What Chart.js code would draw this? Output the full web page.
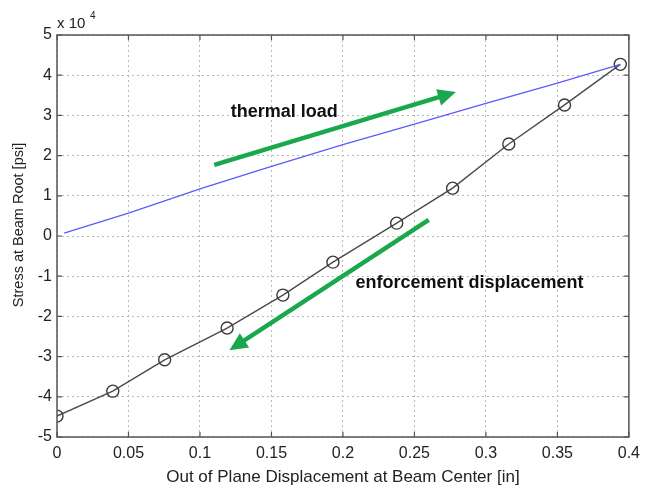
<!DOCTYPE html>
<html><head><meta charset="utf-8">
<script src="https://cdn.jsdelivr.net/npm/chart.js@4/dist/chart.umd.min.js"></script>
<style>html,body{margin:0;padding:0;background:#fff;}</style>
</head><body>
<canvas id="c" width="647" height="491" style="display:block;width:647px;height:491px"></canvas>
<script>
// Stress values are in units of 10^4 psi (axis multiplier "x 10^4")
const thermalX = [0.005, 0.05, 0.1, 0.15, 0.2, 0.25, 0.3, 0.35, 0.394];
const thermalY = [0.07, 0.57, 1.17, 1.73, 2.27, 2.78, 3.30, 3.80, 4.27];

const enforcedX = [0, 0.039, 0.0753, 0.119, 0.158, 0.193, 0.2376, 0.2767, 0.316, 0.355, 0.394];
const enforcedY = [-4.48, -3.86, -3.08, -2.29, -1.47, -0.65, 0.32, 1.19, 2.29, 3.26, 4.27];

const xTickValues = [0, 0.05, 0.1, 0.15, 0.2, 0.25, 0.3, 0.35, 0.4];
const xTickLabels = ["0", "0.05", "0.1", "0.15", "0.2", "0.25", "0.3", "0.35", "0.4"];
const yTickValues = [-5, -4, -3, -2, -1, 0, 1, 2, 3, 4, 5];
const yTickLabels = ["-5", "-4", "-3", "-2", "-1", "0", "1", "2", "3", "4", "5"];

// annotation arrows in data units: [x0, y0, x1(tip), y1(tip)]
const arrowThermal = [0.110, 1.77, 0.279, 3.58];
const arrowEnforced = [0.260, 0.40, 0.1206, -2.84];
const labelThermal = {text: "thermal load", x: 0.159, y: 3.08};
const labelEnforced = {text: "enforcement displacement", x: 0.2885, y: -1.17};
const yTitle = "Stress at Beam Root [psi]";
const xTitle = "Out of Plane Displacement at Beam Center [in]";

const FONT = "'Liberation Sans', Arial, Helvetica, sans-serif";
const GREEN = "#1aa84c";
const FRAME = "#555555";

const pts = (xs, ys) => xs.map((x, i) => ({x: x, y: ys[i]}));

const framePlugin = {
  id: 'frame',
  afterDatasetsDraw(chart) {
    const ctx = chart.ctx, a = chart.chartArea;
    const xs = chart.scales.x, ys = chart.scales.y;
    ctx.save();
    ctx.strokeStyle = FRAME;
    ctx.lineWidth = 1.5;
    ctx.strokeRect(a.left, a.top, a.right - a.left, a.bottom - a.top);
    ctx.lineWidth = 1.2;
    ctx.beginPath();
    const tl = 5;
    xTickValues.forEach(v => {
      const px = xs.getPixelForValue(v);
      ctx.moveTo(px, a.bottom); ctx.lineTo(px, a.bottom - tl);
      ctx.moveTo(px, a.top); ctx.lineTo(px, a.top + tl);
    });
    yTickValues.forEach(v => {
      const py = ys.getPixelForValue(v);
      ctx.moveTo(a.left, py); ctx.lineTo(a.left + tl, py);
      ctx.moveTo(a.right, py); ctx.lineTo(a.right - tl, py);
    });
    ctx.stroke();

    // arrows
    const drawArrow = (arr) => {
      const x0 = xs.getPixelForValue(arr[0]), y0 = ys.getPixelForValue(arr[1]);
      const x1 = xs.getPixelForValue(arr[2]), y1 = ys.getPixelForValue(arr[3]);
      const ang = Math.atan2(y1 - y0, x1 - x0);
      const hl = 18, hw = 8.5;
      const bx = x1 - hl * Math.cos(ang), by = y1 - hl * Math.sin(ang);
      ctx.strokeStyle = GREEN; ctx.fillStyle = GREEN;
      ctx.lineWidth = 4.5; ctx.lineCap = 'butt';
      ctx.beginPath(); ctx.moveTo(x0, y0); ctx.lineTo(bx + 2 * Math.cos(ang), by + 2 * Math.sin(ang)); ctx.stroke();
      ctx.beginPath();
      ctx.moveTo(x1, y1);
      ctx.lineTo(bx + hw * Math.sin(ang), by - hw * Math.cos(ang));
      ctx.lineTo(bx - hw * Math.sin(ang), by + hw * Math.cos(ang));
      ctx.closePath(); ctx.fill();
    };
    drawArrow(arrowThermal);
    drawArrow(arrowEnforced);

    ctx.fillStyle = '#111';
    ctx.font = "bold 18px " + FONT;
    ctx.textAlign = 'center'; ctx.textBaseline = 'middle';
    [labelThermal, labelEnforced].forEach(l => {
      ctx.fillText(l.text, xs.getPixelForValue(l.x), ys.getPixelForValue(l.y));
    });

    // y-axis title
    ctx.fillStyle = '#222';
    ctx.save();
    ctx.translate(19, 225);
    ctx.rotate(-Math.PI / 2);
    ctx.font = "14.5px " + FONT;
    ctx.fillText(yTitle, 0, 0);
    ctx.restore();

    // axis multiplier
    ctx.textAlign = 'left'; ctx.textBaseline = 'alphabetic';
    ctx.font = "15px " + FONT;
    ctx.fillText("x 10", 57, 28);
    ctx.font = "10px " + FONT;
    ctx.fillText("4", 90, 19);
    ctx.restore();
  }
};

new Chart(document.getElementById('c'), {
  type: 'scatter',
  plugins: [framePlugin],
  data: {
    datasets: [
      {
        data: pts(thermalX, thermalY),
        showLine: true,
        borderColor: '#5b5bf5',
        borderWidth: 1.3,
        pointRadius: 0,
        tension: 0
      },
      {
        data: pts(enforcedX, enforcedY),
        showLine: true,
        borderColor: '#4a4a4a',
        borderWidth: 1.4,
        pointRadius: 6,
        pointBorderWidth: 1.4,
        pointBorderColor: '#3a3a3a',
        pointBackgroundColor: 'rgba(0,0,0,0)',
        tension: 0
      }
    ]
  },
  options: {
    responsive: false,
    animation: false,
    devicePixelRatio: 1,
    layout: {padding: {top: 35, right: 16, left: 0, bottom: 0}},
    plugins: {legend: {display: false}, tooltip: {enabled: false}},
    scales: {
      x: {
        type: 'linear', min: 0, max: 0.4,
        afterBuildTicks: s => { s.ticks = xTickValues.map(v => ({value: v})); },
        afterFit: s => { s.height = 54; },
        ticks: {
          callback: (v, i) => xTickLabels[i],
          color: '#222', font: {family: FONT, size: 16}, padding: 7, maxRotation: 0, autoSkip: false
        },
        grid: {color: '#b8b8b8', lineWidth: 1, drawTicks: false},
        border: {display: false, dash: [2, 3]},
        title: {display: true, text: xTitle, color: '#222',
          font: {family: FONT, size: 17, lineHeight: 1.2}, padding: {top: 0, bottom: 3}}
      },
      y: {
        type: 'linear', min: -5, max: 5,
        afterBuildTicks: s => { s.ticks = yTickValues.map(v => ({value: v})); },
        afterFit: s => { s.width = 57; },
        ticks: {
          callback: (v, i) => yTickLabels[i],
          color: '#222', font: {family: FONT, size: 16}, padding: 5, autoSkip: false
        },
        grid: {color: '#b8b8b8', lineWidth: 1, drawTicks: false},
        border: {display: false, dash: [2, 3]},
        title: {display: false}
      }
    }
  }
});
</script>
</body></html>
